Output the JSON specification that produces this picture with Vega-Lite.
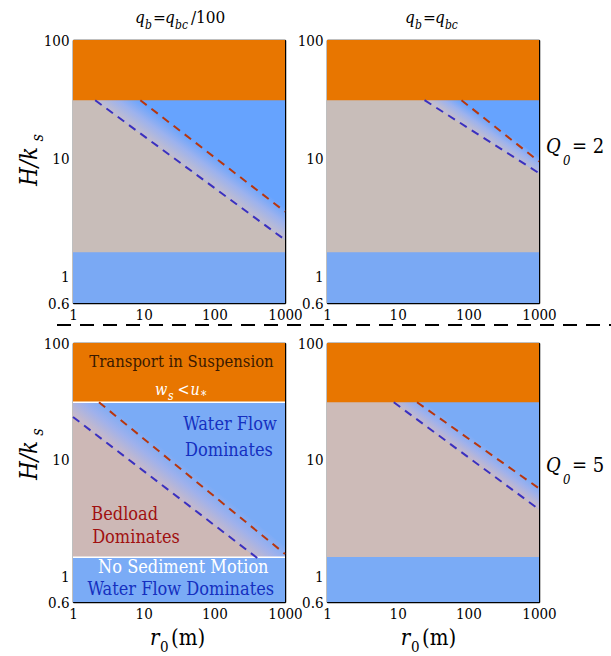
{
"$schema":"https://vega.github.io/schema/vega-lite/v6.json",
"background":"white",
"padding":{"left":17,"top":8,"right":0,"bottom":0},
"columns":2,
"spacing":{"row":40,"column":42},
"bounds":"flush",
"config":{"font":"DejaVu Serif Condensed","view":{"stroke":null},
 "axis":{"grid":false,"domain":true,"domainColor":"black","domainWidth":1.5,"ticks":true,"tickColor":"black","tickSize":-4,"tickWidth":1,"labelFont":"DejaVu Serif Condensed","labelFontSize":15,"labelColor":"black","labelPadding":8,"labelOverlap":false,"labelFlush":false,"zindex":1}},
"concat":[
{
 "width":212,"height":263,
 "resolve":{"axis":{"x":"independent","y":"independent"}},
 "layer":[
  {"data":{"values":[{"x":1,"x2":1000,"y":0.6,"y2":100}]},
   "mark":{"type":"rect","color":"#66a3fe"},
   "encoding":{
    "x":{"field":"x","type":"quantitative","scale":{"type":"log","domain":[1,1000],"nice":false},"title":null,"axis":{"orient":"bottom","values":[1,2,3,4,5,6,7,8,9,10,20,30,40,50,60,70,80,90,100,200,300,400,500,600,700,800,900,1000],"labelExpr":"datum.value==1||datum.value==10||datum.value==100||datum.value==1000 ? format(datum.value,'d') : ''"}},
    "x2":{"field":"x2"},
    "y":{"field":"y","type":"quantitative","scale":{"type":"log","domain":[0.6,100],"nice":false},"title":null,"axis":{"orient":"left","values":[0.6,0.7,0.8,0.9,1,2,3,4,5,6,7,8,9,10,20,30,40,50,60,70,80,90,100],"labelExpr":"datum.value==0.6 ? '0.6' : (datum.value==1||datum.value==10||datum.value==100) ? format(datum.value,'d') : ''"}},
    "y2":{"field":"y2"}}},
  {"data":{"values":[{"x":1,"y":42.6},{"x":1000,"y":2.05}]},
   "mark":{"type":"area","color":"#c8bdb9","clip":true},
   "encoding":{"x":{"field":"x","type":"quantitative","axis":null},"y":{"field":"y","type":"quantitative","axis":null},"y2":{"datum":0.6}}},
  {"data":{"values":[{"x":2.06,"y":31,"y2":59},{"x":1000,"y":2.05,"y2":3.9}]},
   "mark":{"type":"area","clip":true,"color":{"gradient":"linear","x1":0.5,"y1":0.596,"x2":0.594,"y2":0.48,"stops":[{"offset":0,"color":"#c2bdce"},{"offset":0.5,"color":"#9cb2ee"},{"offset":1,"color":"#66a3fe"}]}},
   "encoding":{"x":{"field":"x","type":"quantitative","axis":null},"y":{"field":"y","type":"quantitative","axis":null},"y2":{"field":"y2"}}},
  {"data":{"values":[{"x":1,"x2":1000,"y":31,"y2":100}]},
   "mark":{"type":"rect","color":"#e87600"},
   "encoding":{
    "x":{"field":"x","type":"quantitative","title":null,"axis":{"orient":"top","labels":false,"values":[1,2,3,4,5,6,7,8,9,10,20,30,40,50,60,70,80,90,100,200,300,400,500,600,700,800,900,1000]}},
    "x2":{"field":"x2"},
    "y":{"field":"y","type":"quantitative","title":null,"axis":{"orient":"right","labels":false,"values":[0.6,0.7,0.8,0.9,1,2,3,4,5,6,7,8,9,10,20,30,40,50,60,70,80,90,100]}},
    "y2":{"field":"y2"}}},
  {"data":{"values":[{"x":1,"x2":1000,"y":0.6,"y2":1.61}]},
   "mark":{"type":"rect","color":"#7aa9f4"},
   "encoding":{"x":{"field":"x","type":"quantitative","axis":null},"x2":{"field":"x2"},"y":{"field":"y","type":"quantitative","axis":null},"y2":{"field":"y2"}}},
  {"data":{"values":[{"s":"a","x":2.06,"y":31},{"s":"a","x":1000,"y":2.05},{"s":"b","x":8.97,"y":31},{"s":"b","x":1000,"y":3.55}]},
   "mark":{"type":"line","strokeDash":[8,6],"strokeWidth":2},
   "encoding":{"x":{"field":"x","type":"quantitative","axis":null},"y":{"field":"y","type":"quantitative","axis":null},"stroke":{"field":"s","type":"nominal","scale":{"domain":["a","b"],"range":["#3a30c0","#b8360e"]},"legend":null}}},
  {"data":{"values":[{"x":7.54,"y":139.2,"t":"q"},{"x":20.0,"y":139.2,"t":"q"}]},
   "mark":{"type":"text","fontStyle":"italic","fontSize":17,"align":"left","baseline":"alphabetic","color":"black"},
   "encoding":{"x":{"field":"x","type":"quantitative","axis":null},"y":{"field":"y","type":"quantitative","axis":null},"text":{"field":"t"}}},
  {"data":{"values":[{"x":10.44,"y":123.9,"t":"b"},{"x":27.8,"y":123.9,"t":"bc"}]},
   "mark":{"type":"text","fontStyle":"italic","fontSize":12,"align":"left","baseline":"alphabetic","color":"black"},
   "encoding":{"x":{"field":"x","type":"quantitative","axis":null},"y":{"field":"y","type":"quantitative","axis":null},"text":{"field":"t"}}},
  {"data":{"values":[{"x":13.55,"y":139.2,"t":"="},{"x":46.7,"y":139.2,"t":"/100"}]},
   "mark":{"type":"text","fontSize":17,"align":"left","baseline":"alphabetic","color":"black"},
   "encoding":{"x":{"field":"x","type":"quantitative","axis":null},"y":{"field":"y","type":"quantitative","axis":null},"text":{"field":"t"}}},
  {"data":{"values":[{"x":0.309,"y":5.84,"t":"H/k"}]},
   "mark":{"type":"text","fontStyle":"italic","fontSize":24,"angle":270,"align":"left","baseline":"alphabetic","color":"black"},
   "encoding":{"x":{"field":"x","type":"quantitative","axis":null},"y":{"field":"y","type":"quantitative","axis":null},"text":{"field":"t"}}},
  {"data":{"values":[{"x":0.376,"y":13.9,"t":"s"}]},
   "mark":{"type":"text","fontStyle":"italic","fontSize":16,"angle":270,"align":"left","baseline":"alphabetic","color":"black"},
   "encoding":{"x":{"field":"x","type":"quantitative","axis":null},"y":{"field":"y","type":"quantitative","axis":null},"text":{"field":"t"}}},
  {"data":{"values":[{"x":0.594,"x2":44000000,"y":0.392}]},
   "mark":{"type":"rule","color":"black","strokeWidth":2,"strokeDash":[14,9]},
   "encoding":{"x":{"field":"x","type":"quantitative","axis":null},"x2":{"field":"x2"},"y":{"field":"y","type":"quantitative","axis":null}}}
 ]
},
{
 "width":212,"height":263,
 "resolve":{"axis":{"x":"independent","y":"independent"}},
 "layer":[
  {"data":{"values":[{"x":1,"x2":1000,"y":0.6,"y2":100}]},
   "mark":{"type":"rect","color":"#66a3fe"},
   "encoding":{
    "x":{"field":"x","type":"quantitative","scale":{"type":"log","domain":[1,1000],"nice":false},"title":null,"axis":{"orient":"bottom","values":[1,2,3,4,5,6,7,8,9,10,20,30,40,50,60,70,80,90,100,200,300,400,500,600,700,800,900,1000],"labelExpr":"datum.value==1||datum.value==10||datum.value==100||datum.value==1000 ? format(datum.value,'d') : ''"}},
    "x2":{"field":"x2"},
    "y":{"field":"y","type":"quantitative","scale":{"type":"log","domain":[0.6,100],"nice":false},"title":null,"axis":{"orient":"left","values":[0.6,0.7,0.8,0.9,1,2,3,4,5,6,7,8,9,10,20,30,40,50,60,70,80,90,100],"labelExpr":"datum.value==0.6 ? '0.6' : (datum.value==1||datum.value==10||datum.value==100) ? format(datum.value,'d') : ''"}},
    "y2":{"field":"y2"}}},
  {"data":{"values":[{"x":1,"y":105},{"x":1000,"y":7.5}]},
   "mark":{"type":"area","color":"#c8bdb9","clip":true},
   "encoding":{"x":{"field":"x","type":"quantitative","axis":null},"y":{"field":"y","type":"quantitative","axis":null},"y2":{"datum":0.6}}},
  {"data":{"values":[{"x":24,"y":31,"y2":54.6},{"x":1000,"y":7.5,"y2":10.2}]},
   "mark":{"type":"area","clip":true,"color":{"gradient":"linear","x1":0.5,"y1":0.643,"x2":0.603,"y2":0.51,"stops":[{"offset":0,"color":"#c2bdce"},{"offset":0.5,"color":"#9cb2ee"},{"offset":1,"color":"#66a3fe"}]}},
   "encoding":{"x":{"field":"x","type":"quantitative","axis":null},"y":{"field":"y","type":"quantitative","axis":null},"y2":{"field":"y2"}}},
  {"data":{"values":[{"x":1,"x2":1000,"y":31,"y2":100}]},
   "mark":{"type":"rect","color":"#e87600"},
   "encoding":{
    "x":{"field":"x","type":"quantitative","title":null,"axis":{"orient":"top","labels":false,"values":[1,2,3,4,5,6,7,8,9,10,20,30,40,50,60,70,80,90,100,200,300,400,500,600,700,800,900,1000]}},
    "x2":{"field":"x2"},
    "y":{"field":"y","type":"quantitative","title":null,"axis":{"orient":"right","labels":false,"values":[0.6,0.7,0.8,0.9,1,2,3,4,5,6,7,8,9,10,20,30,40,50,60,70,80,90,100]}},
    "y2":{"field":"y2"}}},
  {"data":{"values":[{"x":1,"x2":1000,"y":0.6,"y2":1.61}]},
   "mark":{"type":"rect","color":"#7aa9f4"},
   "encoding":{"x":{"field":"x","type":"quantitative","axis":null},"x2":{"field":"x2"},"y":{"field":"y","type":"quantitative","axis":null},"y2":{"field":"y2"}}},
  {"data":{"values":[{"s":"a","x":24,"y":31},{"s":"a","x":1000,"y":7.5},{"s":"b","x":80,"y":31},{"s":"b","x":1000,"y":9.4}]},
   "mark":{"type":"line","strokeDash":[8,6],"strokeWidth":2},
   "encoding":{"x":{"field":"x","type":"quantitative","axis":null},"y":{"field":"y","type":"quantitative","axis":null},"stroke":{"field":"s","type":"nominal","scale":{"domain":["a","b"],"range":["#1a4ee6","#b8360e"]},"legend":null}}},
  {"data":{"values":[{"x":12.7,"y":139.2,"t":"q"},{"x":33.7,"y":139.2,"t":"q"}]},
   "mark":{"type":"text","fontStyle":"italic","fontSize":17,"align":"left","baseline":"alphabetic","color":"black"},
   "encoding":{"x":{"field":"x","type":"quantitative","axis":null},"y":{"field":"y","type":"quantitative","axis":null},"text":{"field":"t"}}},
  {"data":{"values":[{"x":17.6,"y":123.9,"t":"b"},{"x":46.7,"y":123.9,"t":"bc"}]},
   "mark":{"type":"text","fontStyle":"italic","fontSize":12,"align":"left","baseline":"alphabetic","color":"black"},
   "encoding":{"x":{"field":"x","type":"quantitative","axis":null},"y":{"field":"y","type":"quantitative","axis":null},"text":{"field":"t"}}},
  {"data":{"values":[{"x":22.8,"y":139.2,"t":"="}]},
   "mark":{"type":"text","fontSize":17,"align":"left","baseline":"alphabetic","color":"black"},
   "encoding":{"x":{"field":"x","type":"quantitative","axis":null},"y":{"field":"y","type":"quantitative","axis":null},"text":{"field":"t"}}},
  {"data":{"values":[{"x":1256,"y":11.1,"t":"Q"}]},
   "mark":{"type":"text","fontStyle":"italic","fontSize":20,"align":"left","baseline":"alphabetic","color":"black"},
   "encoding":{"x":{"field":"x","type":"quantitative","axis":null},"y":{"field":"y","type":"quantitative","axis":null},"text":{"field":"t"}}},
  {"data":{"values":[{"x":2185,"y":8.79,"t":"0"}]},
   "mark":{"type":"text","fontStyle":"italic","fontSize":13,"align":"left","baseline":"alphabetic","color":"black"},
   "encoding":{"x":{"field":"x","type":"quantitative","axis":null},"y":{"field":"y","type":"quantitative","axis":null},"text":{"field":"t"}}},
  {"data":{"values":[{"x":2930,"y":11.1,"t":"= 2"}]},
   "mark":{"type":"text","fontSize":20,"align":"left","baseline":"alphabetic","color":"black"},
   "encoding":{"x":{"field":"x","type":"quantitative","axis":null},"y":{"field":"y","type":"quantitative","axis":null},"text":{"field":"t"}}}
 ]
},
{
 "width":212,"height":259,
 "resolve":{"axis":{"x":"independent","y":"independent"}},
 "layer":[
  {"data":{"values":[{"x":1,"x2":1000,"y":0.6,"y2":100}]},
   "mark":{"type":"rect","color":"#7aabf6"},
   "encoding":{
    "x":{"field":"x","type":"quantitative","scale":{"type":"log","domain":[1,1000],"nice":false},"title":null,"axis":{"orient":"bottom","values":[1,2,3,4,5,6,7,8,9,10,20,30,40,50,60,70,80,90,100,200,300,400,500,600,700,800,900,1000],"labelExpr":"datum.value==1||datum.value==10||datum.value==100||datum.value==1000 ? format(datum.value,'d') : ''"}},
    "x2":{"field":"x2"},
    "y":{"field":"y","type":"quantitative","scale":{"type":"log","domain":[0.6,100],"nice":false},"title":null,"axis":{"orient":"left","values":[0.6,0.7,0.8,0.9,1,2,3,4,5,6,7,8,9,10,20,30,40,50,60,70,80,90,100],"labelExpr":"datum.value==0.6 ? '0.6' : (datum.value==1||datum.value==10||datum.value==100) ? format(datum.value,'d') : ''"}},
    "y2":{"field":"y2"}}},
  {"data":{"values":[{"x":1,"y":23.2},{"x":1000,"y":0.94}]},
   "mark":{"type":"area","color":"#cdb8b6","clip":true},
   "encoding":{"x":{"field":"x","type":"quantitative","axis":null},"y":{"field":"y","type":"quantitative","axis":null},"y2":{"datum":0.6}}},
  {"data":{"values":[{"x":1,"y":23.2,"y2":54},{"x":1000,"y":0.94,"y2":1.8}]},
   "mark":{"type":"area","clip":true,"color":{"gradient":"linear","x1":0.5,"y1":0.604,"x2":0.589,"y2":0.495,"stops":[{"offset":0,"color":"#c6b9ca"},{"offset":0.5,"color":"#9fb1ec"},{"offset":1,"color":"#7aabf6"}]}},
   "encoding":{"x":{"field":"x","type":"quantitative","axis":null},"y":{"field":"y","type":"quantitative","axis":null},"y2":{"field":"y2"}}},
  {"data":{"values":[{"x":1,"x2":1000,"y":31,"y2":100}]},
   "mark":{"type":"rect","color":"#e87600"},
   "encoding":{
    "x":{"field":"x","type":"quantitative","title":null,"axis":{"orient":"top","labels":false,"values":[1,2,3,4,5,6,7,8,9,10,20,30,40,50,60,70,80,90,100,200,300,400,500,600,700,800,900,1000]}},
    "x2":{"field":"x2"},
    "y":{"field":"y","type":"quantitative","title":null,"axis":{"orient":"right","labels":false,"values":[0.6,0.7,0.8,0.9,1,2,3,4,5,6,7,8,9,10,20,30,40,50,60,70,80,90,100]}},
    "y2":{"field":"y2"}}},
  {"data":{"values":[{"x":1,"x2":1000,"y":0.6,"y2":1.45}]},
   "mark":{"type":"rect","color":"#7aabf6"},
   "encoding":{"x":{"field":"x","type":"quantitative","axis":null},"x2":{"field":"x2"},"y":{"field":"y","type":"quantitative","axis":null},"y2":{"field":"y2"}}},
  {"data":{"values":[{"y":31},{"y":1.45}]},
   "mark":{"type":"rule","color":"white","strokeWidth":1.5},
   "encoding":{"y":{"field":"y","type":"quantitative","axis":null}}},
  {"data":{"values":[{"s":"a","x":1,"y":23.2},{"s":"a","x":406,"y":1.43},{"s":"b","x":2.33,"y":31},{"s":"b","x":1000,"y":1.55}]},
   "mark":{"type":"line","strokeDash":[8,6],"strokeWidth":2},
   "encoding":{"x":{"field":"x","type":"quantitative","axis":null},"y":{"field":"y","type":"quantitative","axis":null},"stroke":{"field":"s","type":"nominal","scale":{"domain":["a","b"],"range":["#1e5ff0","#b03a10"]},"legend":null}}},
  {"data":{"values":[{"x":0.309,"y":6.68,"t":"H/k"}]},
   "mark":{"type":"text","fontStyle":"italic","fontSize":24,"angle":270,"align":"left","baseline":"alphabetic","color":"black"},
   "encoding":{"x":{"field":"x","type":"quantitative","axis":null},"y":{"field":"y","type":"quantitative","axis":null},"text":{"field":"t"}}},
  {"data":{"values":[{"x":0.376,"y":16.0,"t":"s"}]},
   "mark":{"type":"text","fontStyle":"italic","fontSize":16,"angle":270,"align":"left","baseline":"alphabetic","color":"black"},
   "encoding":{"x":{"field":"x","type":"quantitative","axis":null},"y":{"field":"y","type":"quantitative","axis":null},"text":{"field":"t"}}},
  {"data":{"values":[{"x":12.3,"y":0.2566,"t":"r"}]},
   "mark":{"type":"text","fontStyle":"italic","fontSize":22,"align":"left","baseline":"alphabetic","color":"black"},
   "encoding":{"x":{"field":"x","type":"quantitative","axis":null},"y":{"field":"y","type":"quantitative","axis":null},"text":{"field":"t"}}},
  {"data":{"values":[{"x":17.0,"y":0.2234,"t":"0"}]},
   "mark":{"type":"text","fontSize":15,"align":"left","baseline":"alphabetic","color":"black"},
   "encoding":{"x":{"field":"x","type":"quantitative","axis":null},"y":{"field":"y","type":"quantitative","axis":null},"text":{"field":"t"}}},
  {"data":{"values":[{"x":24.4,"y":0.2566,"t":"(m)"}]},
   "mark":{"type":"text","fontSize":22,"align":"left","baseline":"alphabetic","color":"black"},
   "encoding":{"x":{"field":"x","type":"quantitative","axis":null},"y":{"field":"y","type":"quantitative","axis":null},"text":{"field":"t"}}},
  {"data":{"values":[{"x":34.3,"y":62.6,"t":"Transport in Suspension"}]},
   "mark":{"type":"text","fontSize":16.5,"align":"center","baseline":"alphabetic","color":"#3b1a00"},
   "encoding":{"x":{"field":"x","type":"quantitative","axis":null},"y":{"field":"y","type":"quantitative","axis":null},"text":{"field":"t"}}},
  {"data":{"values":[{"x":166.6,"y":17.9,"t":"Water Flow"},{"x":161,"y":10.73,"t":"Dominates"},{"x":33.5,"y":0.689,"t":"Water Flow Dominates"}]},
   "mark":{"type":"text","fontSize":18,"align":"center","baseline":"alphabetic","color":"#1530c0"},
   "encoding":{"x":{"field":"x","type":"quantitative","axis":null},"y":{"field":"y","type":"quantitative","axis":null},"text":{"field":"t"}}},
  {"data":{"values":[{"x":5.39,"y":3.03,"t":"Bedload"},{"x":7.79,"y":1.925,"t":"Dominates"}]},
   "mark":{"type":"text","fontSize":18,"align":"center","baseline":"alphabetic","color":"#a01010"},
   "encoding":{"x":{"field":"x","type":"quantitative","axis":null},"y":{"field":"y","type":"quantitative","axis":null},"text":{"field":"t"}}},
  {"data":{"values":[{"x":36.4,"y":1.064,"t":"No Sediment Motion"}]},
   "mark":{"type":"text","fontSize":18,"align":"center","baseline":"alphabetic","color":"white"},
   "encoding":{"x":{"field":"x","type":"quantitative","axis":null},"y":{"field":"y","type":"quantitative","axis":null},"text":{"field":"t"}}},
  {"data":{"values":[{"x":14.5,"y":35.8,"t":"w"},{"x":46.0,"y":35.8,"t":"u"}]},
   "mark":{"type":"text","fontStyle":"italic","fontSize":16,"align":"left","baseline":"alphabetic","color":"white"},
   "encoding":{"x":{"field":"x","type":"quantitative","axis":null},"y":{"field":"y","type":"quantitative","axis":null},"text":{"field":"t"}}},
  {"data":{"values":[{"x":22.1,"y":32.4,"t":"s"}]},
   "mark":{"type":"text","fontStyle":"italic","fontSize":12,"align":"left","baseline":"alphabetic","color":"white"},
   "encoding":{"x":{"field":"x","type":"quantitative","axis":null},"y":{"field":"y","type":"quantitative","axis":null},"text":{"field":"t"}}},
  {"data":{"values":[{"x":30.1,"y":35.8,"t":"<"}]},
   "mark":{"type":"text","fontSize":16,"align":"left","baseline":"alphabetic","color":"white"},
   "encoding":{"x":{"field":"x","type":"quantitative","axis":null},"y":{"field":"y","type":"quantitative","axis":null},"text":{"field":"t"}}},
  {"data":{"values":[{"x":64.8,"y":32.4,"t":"*"}]},
   "mark":{"type":"text","fontSize":12,"align":"left","baseline":"alphabetic","color":"white"},
   "encoding":{"x":{"field":"x","type":"quantitative","axis":null},"y":{"field":"y","type":"quantitative","axis":null},"text":{"field":"t"}}}
 ]
},
{
 "width":212,"height":259,
 "resolve":{"axis":{"x":"independent","y":"independent"}},
 "layer":[
  {"data":{"values":[{"x":1,"x2":1000,"y":0.6,"y2":100}]},
   "mark":{"type":"rect","color":"#7aabf6"},
   "encoding":{
    "x":{"field":"x","type":"quantitative","scale":{"type":"log","domain":[1,1000],"nice":false},"title":null,"axis":{"orient":"bottom","values":[1,2,3,4,5,6,7,8,9,10,20,30,40,50,60,70,80,90,100,200,300,400,500,600,700,800,900,1000],"labelExpr":"datum.value==1||datum.value==10||datum.value==100||datum.value==1000 ? format(datum.value,'d') : ''"}},
    "x2":{"field":"x2"},
    "y":{"field":"y","type":"quantitative","scale":{"type":"log","domain":[0.6,100],"nice":false},"title":null,"axis":{"orient":"left","values":[0.6,0.7,0.8,0.9,1,2,3,4,5,6,7,8,9,10,20,30,40,50,60,70,80,90,100],"labelExpr":"datum.value==0.6 ? '0.6' : (datum.value==1||datum.value==10||datum.value==100) ? format(datum.value,'d') : ''"}},
    "y2":{"field":"y2"}}},
  {"data":{"values":[{"x":1,"y":82},{"x":1000,"y":3.74}]},
   "mark":{"type":"area","color":"#cdbbb8","clip":true},
   "encoding":{"x":{"field":"x","type":"quantitative","axis":null},"y":{"field":"y","type":"quantitative","axis":null},"y2":{"datum":0.6}}},
  {"data":{"values":[{"x":8.8,"y":31,"y2":47},{"x":1000,"y":3.74,"y2":6.2}]},
   "mark":{"type":"area","clip":true,"color":{"gradient":"linear","x1":0.5,"y1":0.582,"x2":0.59,"y2":0.472,"stops":[{"offset":0,"color":"#c6b9ca"},{"offset":0.5,"color":"#9fb1ec"},{"offset":1,"color":"#7aabf6"}]}},
   "encoding":{"x":{"field":"x","type":"quantitative","axis":null},"y":{"field":"y","type":"quantitative","axis":null},"y2":{"field":"y2"}}},
  {"data":{"values":[{"x":1,"x2":1000,"y":31,"y2":100}]},
   "mark":{"type":"rect","color":"#e87600"},
   "encoding":{
    "x":{"field":"x","type":"quantitative","title":null,"axis":{"orient":"top","labels":false,"values":[1,2,3,4,5,6,7,8,9,10,20,30,40,50,60,70,80,90,100,200,300,400,500,600,700,800,900,1000]}},
    "x2":{"field":"x2"},
    "y":{"field":"y","type":"quantitative","title":null,"axis":{"orient":"right","labels":false,"values":[0.6,0.7,0.8,0.9,1,2,3,4,5,6,7,8,9,10,20,30,40,50,60,70,80,90,100]}},
    "y2":{"field":"y2"}}},
  {"data":{"values":[{"x":1,"x2":1000,"y":0.6,"y2":1.46}]},
   "mark":{"type":"rect","color":"#7aabf6"},
   "encoding":{"x":{"field":"x","type":"quantitative","axis":null},"x2":{"field":"x2"},"y":{"field":"y","type":"quantitative","axis":null},"y2":{"field":"y2"}}},
  {"data":{"values":[{"s":"a","x":8.8,"y":31},{"s":"a","x":1000,"y":3.74},{"s":"b","x":18.8,"y":31},{"s":"b","x":1000,"y":5.66}]},
   "mark":{"type":"line","strokeDash":[8,6],"strokeWidth":2},
   "encoding":{"x":{"field":"x","type":"quantitative","axis":null},"y":{"field":"y","type":"quantitative","axis":null},"stroke":{"field":"s","type":"nominal","scale":{"domain":["a","b"],"range":["#1a55e8","#b03a10"]},"legend":null}}},
  {"data":{"values":[{"x":11.1,"y":0.2566,"t":"r"}]},
   "mark":{"type":"text","fontStyle":"italic","fontSize":22,"align":"left","baseline":"alphabetic","color":"black"},
   "encoding":{"x":{"field":"x","type":"quantitative","axis":null},"y":{"field":"y","type":"quantitative","axis":null},"text":{"field":"t"}}},
  {"data":{"values":[{"x":15.4,"y":0.2234,"t":"0"}]},
   "mark":{"type":"text","fontSize":15,"align":"left","baseline":"alphabetic","color":"black"},
   "encoding":{"x":{"field":"x","type":"quantitative","axis":null},"y":{"field":"y","type":"quantitative","axis":null},"text":{"field":"t"}}},
  {"data":{"values":[{"x":22.1,"y":0.2566,"t":"(m)"}]},
   "mark":{"type":"text","fontSize":22,"align":"left","baseline":"alphabetic","color":"black"},
   "encoding":{"x":{"field":"x","type":"quantitative","axis":null},"y":{"field":"y","type":"quantitative","axis":null},"text":{"field":"t"}}},
  {"data":{"values":[{"x":1256,"y":7.87,"t":"Q"}]},
   "mark":{"type":"text","fontStyle":"italic","fontSize":20,"align":"left","baseline":"alphabetic","color":"black"},
   "encoding":{"x":{"field":"x","type":"quantitative","axis":null},"y":{"field":"y","type":"quantitative","axis":null},"text":{"field":"t"}}},
  {"data":{"values":[{"x":2185,"y":6.21,"t":"0"}]},
   "mark":{"type":"text","fontStyle":"italic","fontSize":13,"align":"left","baseline":"alphabetic","color":"black"},
   "encoding":{"x":{"field":"x","type":"quantitative","axis":null},"y":{"field":"y","type":"quantitative","axis":null},"text":{"field":"t"}}},
  {"data":{"values":[{"x":2930,"y":7.87,"t":"= 5"}]},
   "mark":{"type":"text","fontSize":20,"align":"left","baseline":"alphabetic","color":"black"},
   "encoding":{"x":{"field":"x","type":"quantitative","axis":null},"y":{"field":"y","type":"quantitative","axis":null},"text":{"field":"t"}}}
 ]
}
]
}
